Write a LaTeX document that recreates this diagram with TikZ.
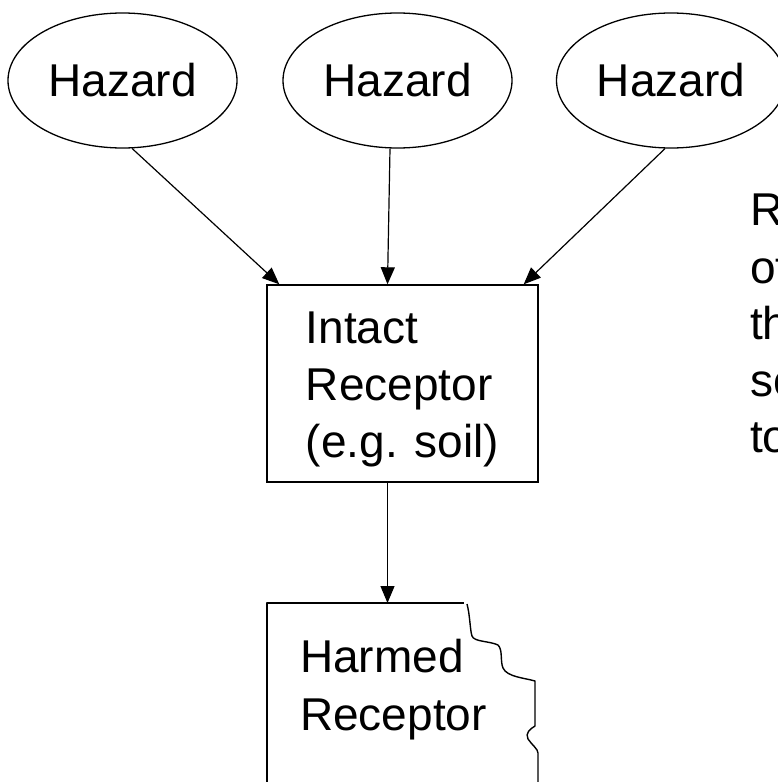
\documentclass[tikz,border=0pt]{standalone}
\usepackage{fontspec}
\setmainfont{Liberation Sans}
\usetikzlibrary{shapes.geometric,arrows.meta,calc}
\begin{document}
\begin{tikzpicture}[x=1pt,y=-1pt,
  txt/.style={font=\fontsize{46}{57}\selectfont},
  hazard/.style={ellipse,draw,line width=1.3pt,minimum width=229pt,minimum height=135pt,inner sep=0pt,txt},
  boxnode/.style={draw,line width=1.4pt,minimum width=271pt,minimum height=197pt,inner sep=0pt},
  plainbox/.style={minimum width=271pt,minimum height=197pt,inner sep=0pt},
  label/.style={anchor=base west,inner sep=0pt,txt},
  arr/.style={line width=1.2pt,-{Triangle[length=17pt,width=14pt]}},
  edgeline/.style={line width=1.4pt,line join=round}]
\clip (0,0) rectangle (778,782);
\fill[white] (0,0) rectangle (778,782);
% hazards
\node[hazard] (h1) at (122.5,80.5) {\raisebox{-1.5pt}{Hazard}};
\node[hazard] (h2) at (397.5,80.5) {\raisebox{-1.5pt}{Hazard}};
\node[hazard] (h3) at (671,80.5) {\raisebox{-1.5pt}{Hazard}};
% intact receptor
\node[boxnode] (intact) at (402.5,383.5) {};
\node[txt,align=left,inner sep=0pt] (intacttxt) at ($(intact.center)+(0,6)$) {Intact\\Receptor\\(e.g. soil)};
% harmed receptor
\node[plainbox,anchor=north west] (harmed) at (267,603) {};
\draw[edgeline] (harmed.south west) -- (harmed.north west) -- ++(197,0);
\draw[edgeline] (467,604) .. controls (470,615) and (470,630) .. (472,636)
  .. controls (474,642) and (490,641) .. (498,645)
  .. controls (503,650) and (500,661) .. (503,668)
  .. controls (507,677) and (525,678) .. (535,681) -- (535,726)
  .. controls (530,729) and (525,733) .. (528,739)
  .. controls (532,745) and (538,749) .. (538,753) -- (538,800);
\node[label] (hm1) at (300,672) {Harmed};
\node[label] (hm2) at (300,730) {Receptor};
% side text (cut off at the right edge, as in the reference)
\node[label] (s1) at (750,225) {Re};
\node[label] (s2) at (750,283) {of};
\node[label] (s3) at (750,339) {the};
\node[label] (s4) at (750,396) {so};
\node[label] (s5) at (750,452) {to};
% connectors
\draw[arr] (h1.-82) -- ($(intact.north west)+(13,0)$);
\draw[arr] ($(h2.south)+(-7.5,0)$) -- ($(intact.north)+(-15,0)$);
\draw[arr] (h3.-95) -- ($(intact.north east)+(-15,0)$);
\draw[arr] ($(intact.south)+(-15,0)$) -- ($(harmed.north west)+(120.5,0)$);
\end{tikzpicture}
\end{document}
